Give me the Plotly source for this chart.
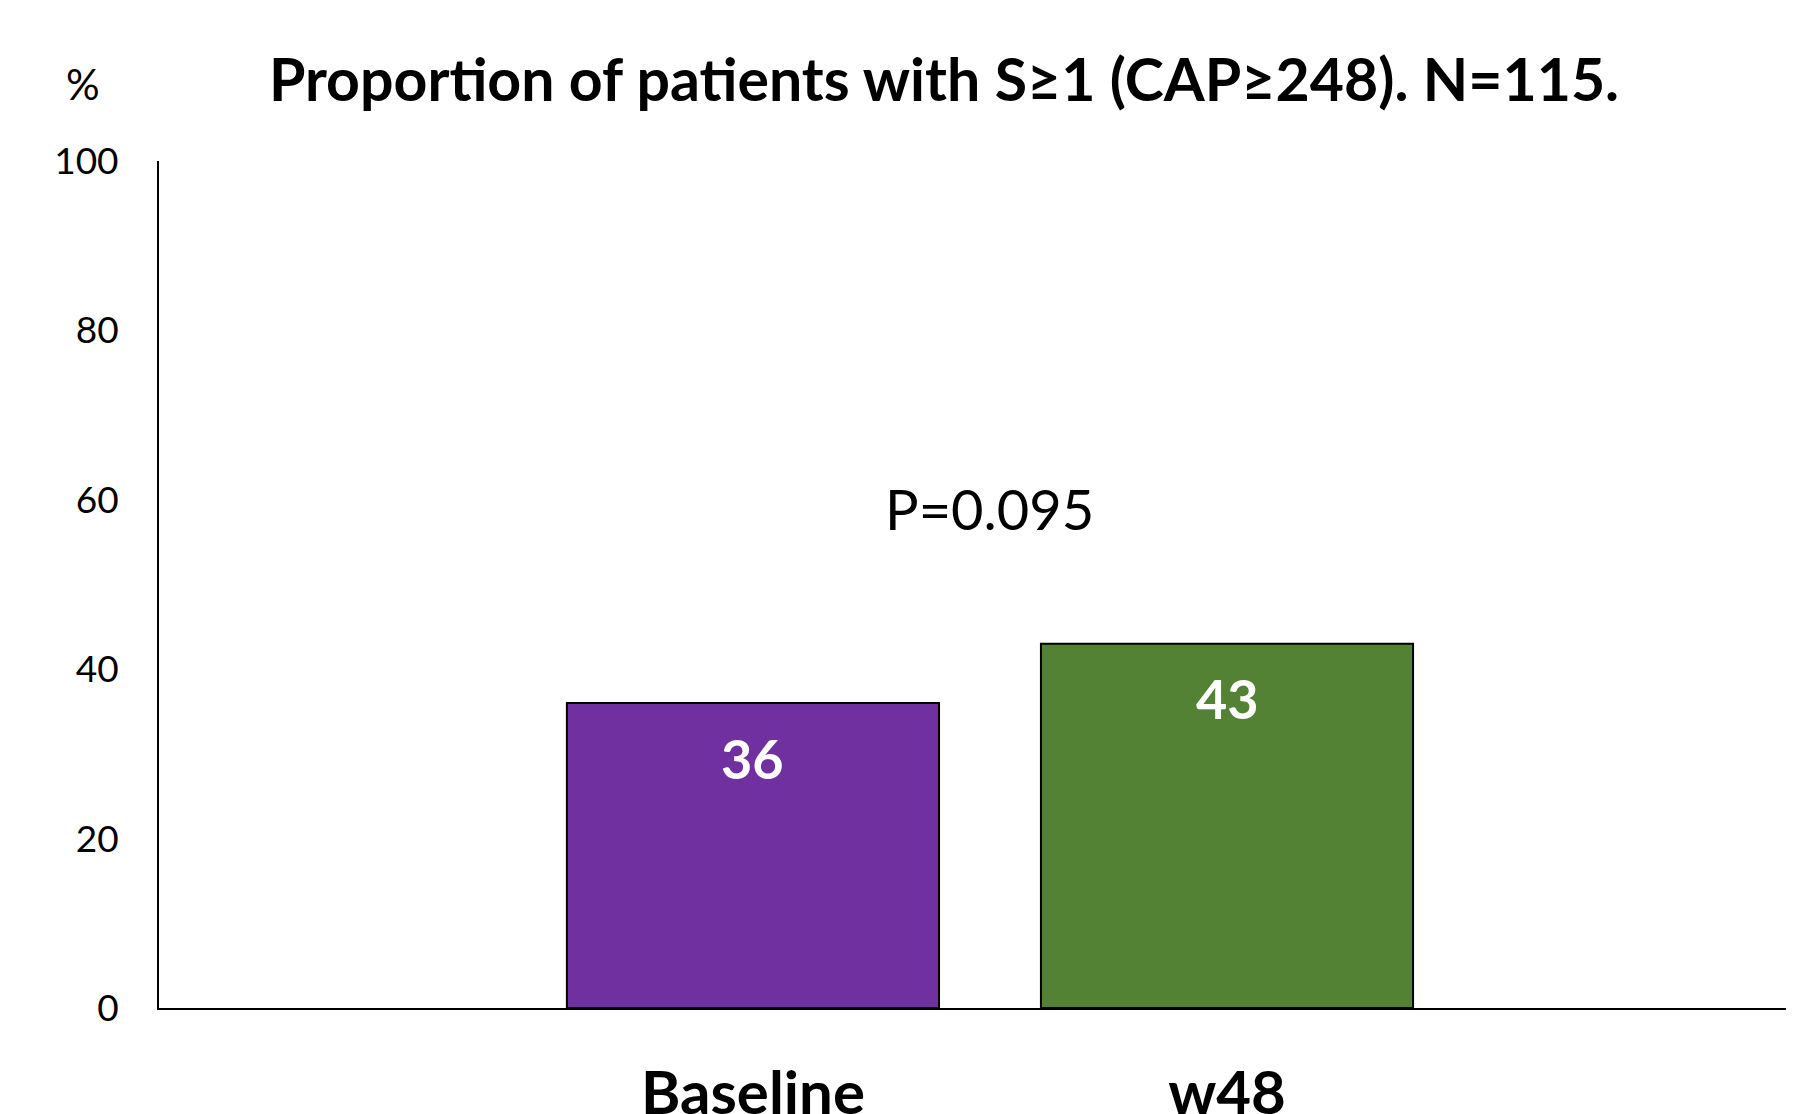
import plotly.graph_objects as go

# --- data ---
categories = ["Baseline", "w48"]
values = [36, 43]
bar_colors = ["#7030A0", "#548235"]
y_ticks = [0, 20, 40, 60, 80, 100]
p_value_text = "P=0.095"
title_text = "Proportion of patients with S≥1 (CAP≥248). N=115."

FONT = "Lato"
W, H = 1794, 1114
# page body adds an 8px offset, so margins are set 8px smaller
L, R, T, B = 151, 0, 153, 114
PW, PH = W - L - R, H - T - B

fig = go.Figure()
fig.add_trace(go.Bar(
    x=categories, y=values,
    marker=dict(color=bar_colors, line=dict(color="black", width=2)),
    width=0.785, showlegend=False, hoverinfo="x+y"
))

# white value labels near the top of each bar
for cat, val in zip(categories, values):
    fig.add_annotation(x=cat, y=val, text=f"<b>{val}</b>", showarrow=False,
                       yanchor="middle", yshift=-55,
                       font=dict(family=FONT, size=54, color="white"))

fig.add_annotation(x=0.5, y=59, text=p_value_text, showarrow=False,
                   font=dict(family=FONT, size=56, color="black"))
# "%" unit label above the y axis (paper coords are relative to the plot area)
fig.add_annotation(xref="paper", yref="paper", x=(75 - L) / PW, y=(H - B - 76) / PH,
                   text="%", showarrow=False, xanchor="center", yanchor="middle",
                   font=dict(family=FONT, size=42, color="black"))

fig.update_layout(
    width=W, height=H,
    margin=dict(l=L, r=R, t=T, b=B),
    paper_bgcolor="white", plot_bgcolor="white",
    title=dict(text=f"<b>{title_text}</b>", x=936 / W, xanchor="center",
               y=1 - 72 / H, yanchor="middle",
               font=dict(family=FONT, size=59, color="black")),
)
fig.update_xaxes(range=[-1.253, 2.213], showline=True, linecolor="black", linewidth=2,
                 showgrid=False, ticks="", ticklabelstandoff=32, automargin=False,
                 tickfont=dict(family=FONT, size=60, color="black"),
                 tickvals=categories, ticktext=[f"<b>{c}</b>" for c in categories])
fig.update_yaxes(range=[0, 100], showline=True, linecolor="black", linewidth=2,
                 showgrid=False, zeroline=False, ticks="", tickvals=y_ticks,
                 ticklabelstandoff=31, automargin=False,
                 tickfont=dict(family=FONT, size=37, color="black"))

fig.write_html("out.html")
